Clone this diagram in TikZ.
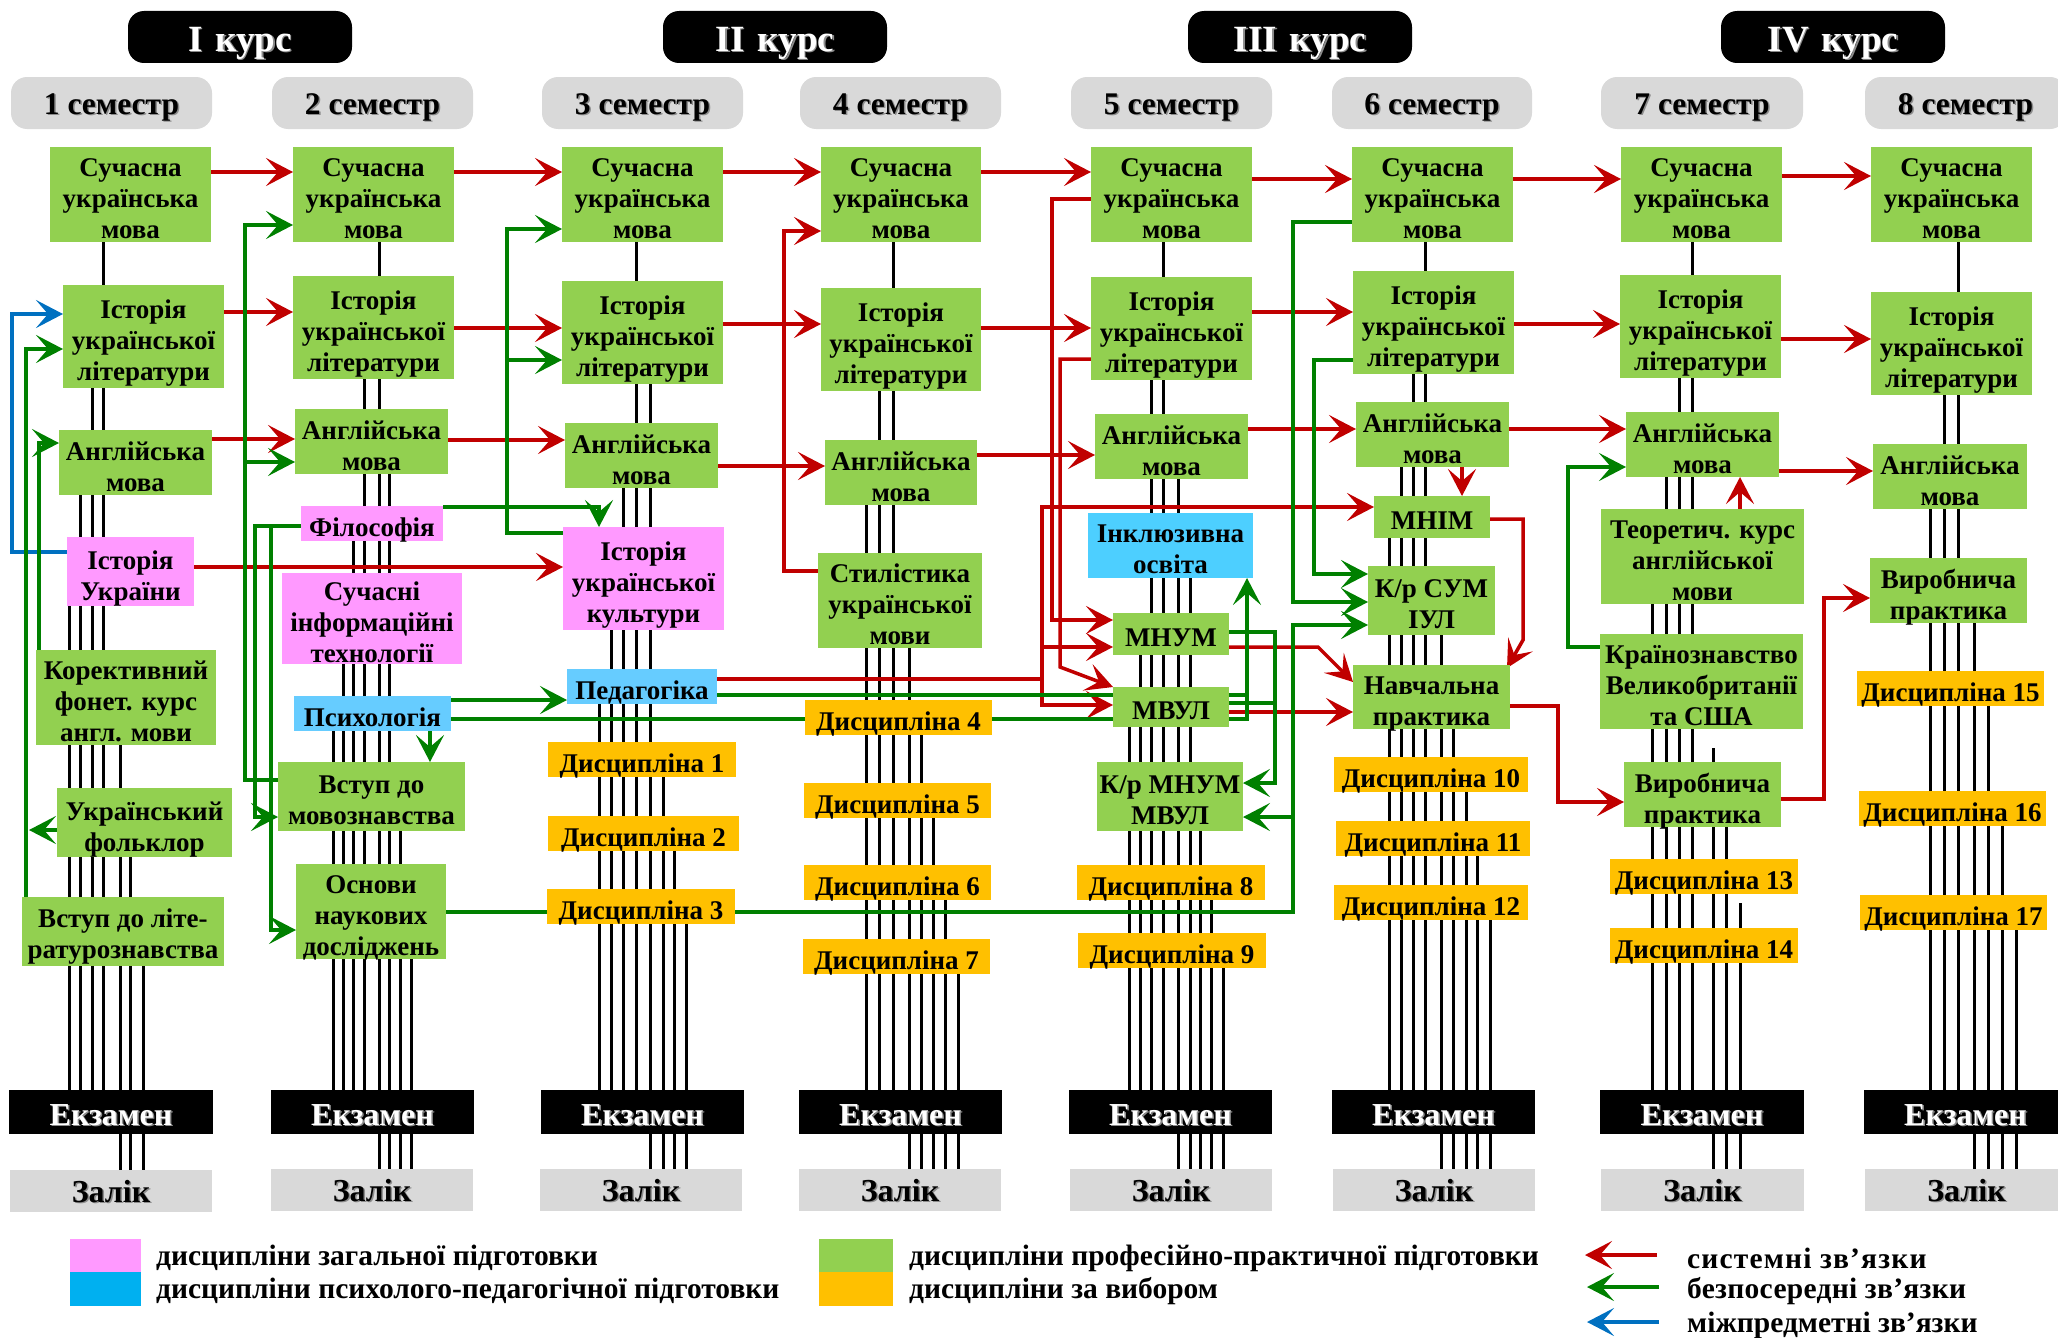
\documentclass[tikz,border=0pt]{standalone}
\usepackage{fontspec}
\setmainfont{Liberation Serif}
\usetikzlibrary{arrows.meta}
\definecolor{gbox}{HTML}{92D050}
\definecolor{obox}{HTML}{FFC000}
\definecolor{pbox}{HTML}{FF99FF}
\definecolor{bbox}{HTML}{66CCFF}
\definecolor{ibox}{HTML}{4DCFFF}
\definecolor{lblue}{HTML}{00B0F0}
\definecolor{gry}{HTML}{D9D9D9}
\definecolor{ared}{HTML}{C00000}
\definecolor{agrn}{HTML}{008000}
\definecolor{ablu}{HTML}{0070C0}
\pgfdeclarelayer{bg}\pgfdeclarelayer{mid}\pgfsetlayers{bg,mid,main}
\newcommand\shd[1]{\makebox[0pt][l]{\hspace{1.5pt}\raisebox{-1.5pt}{\color{black!45}#1}}#1}
\newcommand\bfs{\fontsize{27}{31}\selectfont\bfseries}
% \bx[text shift]{name}{style}{x1}{y1}{x2}{y2}{text}
\newcommand\bx[8][4]{%
  \node[#3,minimum width={(#6-#4)*1pt},minimum height={(#7-#5)*1pt}] (#2) at ({(#4+#6)/2},{(#5+#7)/2}) {};
  \node[#3,fill=none,minimum width=0pt,minimum height=0pt] (#2t) at ([yshift=-#1pt]#2.center) {#8};}
\tikzset{
  box/.style={inner sep=0pt, outer sep=0pt, align=center, font=\bfs, text depth=0pt},
  gb/.style={box, fill=gbox},
  ob/.style={box, fill=obox},
  pb/.style={box, fill=pbox},
  bb/.style={box, fill=bbox},
  ib/.style={box, fill=ibox},
  hdr/.style={box, fill=black, rounded corners=16pt, text=white, font=\fontsize{37}{39}\selectfont\bfseries},
  sem/.style={box, fill=gry, rounded corners=16pt, font=\fontsize{31.5}{33}\selectfont\bfseries},
  exm/.style={box, fill=black, text=white, font=\fontsize{32}{34}\selectfont\bfseries},
  zal/.style={box, fill=gry, font=\fontsize{32}{34}\selectfont\bfseries},
  lsq/.style={inner sep=0pt, outer sep=0pt},
  ltxt/.style={inner sep=0pt, anchor=west, font=\fontsize{29.5}{31}\selectfont\bfseries},
  bund/.style={line width=3pt, draw=black},
  ar/.style={line width=3.5pt, -{Stealth[length=27pt,width=28pt,inset=12pt]}},
  rar/.style={ar, draw=ared},
  gar/.style={ar, draw=agrn},
  bar/.style={ar, draw=ablu},
  rline/.style={line width=3.5pt, draw=ared},
  gline/.style={line width=3.5pt, draw=agrn},
}
\begin{document}
\begin{tikzpicture}[x=1pt,y=-1pt]
\useasboundingbox (0,0) rectangle (2058,1338);
% headers
\bx[2]{k1}{hdr}{128}{11}{352}{63}{\shd{I\hspace{0.35em}курс}}
\bx[2]{k2}{hdr}{663}{11}{887}{63}{\shd{II\hspace{0.35em}курс}}
\bx[2]{k3}{hdr}{1188}{11}{1412}{63}{\shd{III\hspace{0.35em}курс}}
\bx[2]{k4}{hdr}{1721}{11}{1945}{63}{\shd{IV\hspace{0.35em}курс}}
\bx[1]{m1}{sem}{11}{77}{212}{129}{\shd{1 семестр}}
\bx[1]{m2}{sem}{272}{77}{473}{129}{\shd{2 семестр}}
\bx[1]{m3}{sem}{542}{77}{743}{129}{\shd{3 семестр}}
\bx[1]{m4}{sem}{800}{77}{1001}{129}{\shd{4 семестр}}
\bx[1]{m5}{sem}{1071}{77}{1272}{129}{\shd{5 семестр}}
\bx[1]{m6}{sem}{1332}{77}{1532}{129}{\shd{6 семестр}}
\bx[1]{m7}{sem}{1601}{77}{1803}{129}{\shd{7 семестр}}
\bx[1]{m8}{sem}{1865}{77}{2066}{129}{\shd{8 семестр}}
% column 1
\bx{s1a}{gb}{50}{147}{211}{242}{Сучасна\\українська\\мова}
\bx{l1}{gb}{63}{285}{224}{388}{Історія\\української\\літератури}
\bx{e1}{gb}{59}{430}{212}{495}{Англійська\\мова}
\bx{iu}{pb}{67}{537}{194}{606}{Історія\\України}
\bx{kf}{gb}{36}{650}{216}{745}{Корективний\\фонет. курс\\англ. мови}
\bx{uf}{gb}{57}{788}{232}{857}{Український\\фольклор}
\bx[2]{vl}{gb}{22}{897}{224}{966}{Вступ до літе-\\ратурознавства}
\bx[3]{ex1}{exm}{9}{1090}{213}{1134}{\shd{Екзамен}}
\bx[0]{z1}{zal}{10}{1170}{212}{1212}{\shd{Залік}}
% column 2
\bx{s2}{gb}{293}{147}{454}{242}{Сучасна\\українська\\мова}
\bx{l2}{gb}{293}{276}{454}{379}{Історія\\української\\літератури}
\bx{e2}{gb}{295}{409}{448}{474}{Англійська\\мова}
\bx{fil}{pb}{301}{506}{443}{541}{Філософія}
\bx{sit}{pb}{282}{573}{462}{664}{Сучасні\\інформаційні\\технології}
\bx{psy}{bb}{294}{696}{451}{731}{Психологія}
\bx{vm}{gb}{278}{762}{465}{831}{Вступ до\\мовознавства}
\bx{ond}{gb}{296}{864}{446}{959}{Основи\\наукових\\досліджень}
\bx[3]{ex2}{exm}{271}{1090}{474}{1134}{\shd{Екзамен}}
\bx[0]{z2}{zal}{271}{1169}{473}{1211}{\shd{Залік}}
% column 3
\bx{s3}{gb}{562}{147}{723}{242}{Сучасна\\українська\\мова}
\bx{l3}{gb}{562}{281}{723}{384}{Історія\\української\\літератури}
\bx{e3}{gb}{565}{423}{718}{488}{Англійська\\мова}
\bx{iuk}{pb}{563}{527}{724}{630}{Історія\\української\\культури}
\bx{ped}{bb}{567}{669}{717}{704}{Педагогіка}
\bx{d1}{ob}{548}{742}{736}{777}{Дисципліна 1}
\bx{d2}{ob}{548}{816}{739}{851}{Дисципліна 2}
\bx{d3}{ob}{547}{889}{735}{924}{Дисципліна 3}
\bx[3]{ex3}{exm}{541}{1090}{744}{1134}{\shd{Екзамен}}
\bx[0]{z3}{zal}{540}{1169}{742}{1211}{\shd{Залік}}
% column 4
\bx{s4}{gb}{821}{147}{981}{242}{Сучасна\\українська\\мова}
\bx{l4}{gb}{821}{288}{981}{391}{Історія\\української\\літератури}
\bx{e4}{gb}{825}{440}{977}{505}{Англійська\\мова}
\bx{st}{gb}{818}{553}{982}{648}{Стилістика\\української\\мови}
\bx{d4}{ob}{805}{700}{992}{735}{Дисципліна 4}
\bx{d5}{ob}{804}{783}{991}{818}{Дисципліна 5}
\bx{d6}{ob}{804}{865}{991}{900}{Дисципліна 6}
\bx{d7}{ob}{803}{939}{990}{974}{Дисципліна 7}
\bx[3]{ex4}{exm}{799}{1090}{1002}{1134}{\shd{Екзамен}}
\bx[0]{z4}{zal}{799}{1169}{1001}{1211}{\shd{Залік}}
% column 5
\bx{s5}{gb}{1091}{147}{1252}{242}{Сучасна\\українська\\мова}
\bx{l5}{gb}{1091}{277}{1252}{380}{Історія\\української\\літератури}
\bx{e5}{gb}{1095}{414}{1248}{479}{Англійська\\мова}
\bx{inc}{ib}{1088}{513}{1253}{578}{Інклюзивна\\освіта}
\bx{mnum}{gb}{1113}{613}{1229}{655}{МНУМ}
\bx{mvul}{gb}{1113}{687}{1229}{727}{МВУЛ}
\bx{kr5}{gb}{1097}{762}{1243}{831}{К/р МНУМ\\МВУЛ}
\bx{d8}{ob}{1077}{865}{1265}{900}{Дисципліна 8}
\bx{d9}{ob}{1078}{933}{1266}{968}{Дисципліна 9}
\bx[3]{ex5}{exm}{1069}{1090}{1272}{1134}{\shd{Екзамен}}
\bx[0]{z5}{zal}{1070}{1169}{1272}{1211}{\shd{Залік}}
% column 6
\bx{s6}{gb}{1352}{147}{1513}{242}{Сучасна\\українська\\мова}
\bx{l6}{gb}{1353}{271}{1514}{374}{Історія\\української\\літератури}
\bx{e6}{gb}{1356}{402}{1509}{467}{Англійська\\мова}
\bx{mnim}{gb}{1374}{496}{1490}{538}{МНІМ}
\bx{kr6}{gb}{1368}{566}{1495}{635}{К/р СУМ\\ІУЛ}
\bx{np}{gb}{1353}{665}{1510}{729}{Навчальна\\практика}
\bx{d10}{ob}{1334}{757}{1528}{792}{Дисципліна 10}
\bx{d11}{ob}{1336}{821}{1530}{856}{Дисципліна 11}
\bx{d12}{ob}{1334}{885}{1528}{920}{Дисципліна 12}
\bx[3]{ex6}{exm}{1332}{1090}{1535}{1134}{\shd{Екзамен}}
\bx[0]{z6}{zal}{1333}{1169}{1535}{1211}{\shd{Залік}}
% column 7
\bx{s7}{gb}{1621}{147}{1782}{242}{Сучасна\\українська\\мова}
\bx{l7}{gb}{1620}{275}{1781}{378}{Історія\\української\\літератури}
\bx{e7}{gb}{1626}{412}{1779}{477}{Англійська\\мова}
\bx{tk}{gb}{1601}{509}{1804}{604}{Теоретич. курс\\англійської\\мови}
\bx{kz}{gb}{1600}{634}{1803}{729}{Країнознавство\\Великобританії\\та США}
\bx{vp7}{gb}{1624}{762}{1781}{827}{Виробнича\\практика}
\bx{d13}{ob}{1610}{859}{1798}{894}{Дисципліна 13}
\bx{d14}{ob}{1610}{928}{1798}{963}{Дисципліна 14}
\bx[3]{ex7}{exm}{1600}{1090}{1804}{1134}{\shd{Екзамен}}
\bx[0]{z7}{zal}{1601}{1169}{1804}{1211}{\shd{Залік}}
% column 8
\bx{s8}{gb}{1871}{147}{2032}{242}{Сучасна\\українська\\мова}
\bx{l8}{gb}{1871}{292}{2032}{395}{Історія\\української\\літератури}
\bx{e8}{gb}{1873}{444}{2027}{509}{Англійська\\мова}
\bx{vp8}{gb}{1870}{558}{2027}{623}{Виробнича\\практика}
\bx{d15}{ob}{1857}{671}{2044}{706}{Дисципліна 15}
\bx{d16}{ob}{1859}{791}{2046}{826}{Дисципліна 16}
\bx{d17}{ob}{1860}{895}{2047}{930}{Дисципліна 17}
\bx[3]{ex8}{exm}{1864}{1090}{2067}{1134}{\shd{Екзамен}}
\bx[0]{z8}{zal}{1865}{1169}{2068}{1211}{\shd{Залік}}
% legend
\node[lsq,fill=pbox,minimum width=71pt,minimum height=33pt] (lp) at (105.5,1255.5) {};
\node[lsq,fill=lblue,minimum width=71pt,minimum height=34pt] (lb) at (105.5,1289) {};
\node[lsq,fill=gbox,minimum width=74pt,minimum height=33pt] (lg) at (856,1255.5) {};
\node[lsq,fill=obox,minimum width=74pt,minimum height=34pt] (lo) at (856,1289) {};
\node[ltxt] (t1) at (156,1258) {дисципліни загальної підготовки};
\node[ltxt] (t2) at (156,1291) {дисципліни психолого-педагогічної підготовки};
\node[ltxt] (t3) at (909,1258) {дисципліни професійно-практичної підготовки};
\node[ltxt] (t4) at (909,1291) {дисципліни за вибором};
\node[ltxt] (t5) at (1687,1258) {\addfontfeature{LetterSpace=4}системні зв’язки};
\node[ltxt] (t6) at (1687,1291) {\addfontfeature{LetterSpace=1}безпосередні зв’язки};
\node[ltxt] (t7) at (1687,1325) {міжпредметні зв’язки};
\coordinate (ra1) at (1657,1255); \coordinate (ra2) at (1585,1255);
\coordinate (ga1) at (1659,1287); \coordinate (ga2) at (1587,1287);
\coordinate (ba1) at (1659,1322); \coordinate (ba2) at (1587,1322);
\draw[rar] (ra1) -- (ra2);
\draw[gar] (ga1) -- (ga2);
\draw[bar] (ba1) -- (ba2);
% bundles
\begin{pgfonlayer}{bg}
\foreach \x/\a/\b in {103/s1a/ex1,92/l1/ex1,80/e1/ex1,69/iu/ex1,120/kf/z1,130/uf/z1,143/vl/z1,
  379/s2/z2,364/l2/ex2,389/e2/z2,353/fil/ex2,343/sit/ex2,333/psy/ex2,400/vm/z2,411/ond/z2,
  636/s3/ex3,650/l3/z3,623/e3/ex3,611/iuk/ex3,599/ped/ex3,663/d1/z3,674/d2/z3,686/d3/z3,
  893/s4/ex4,879/l4/ex4,866/e4/ex4,909/st/z4,921/d4/z4,933/d5/z4,945/d6/z4,958/d7/z4,
  1163/s5/ex5,1151/l5/ex5,1178/e5/z5,1190/inc/z5,1140/mnum/ex5,1129/mvul/ex5,1200/kr5/z5,1211/d8/z5,1223/d9/z5,
  1425/s6/ex6,1413/l6/ex6,1401/e6/ex6,1389/mnim/ex6,1441/kr6/z6,1453/np/z6,1466/d10/z6,1477/d11/z6,1490/d12/z6,
  1692/s7/ex7,1679/l7/ex7,1666/e7/ex7,1652/tk/ex7,1726/vp7/z7,
  1958/s8/ex8,1944/l8/ex8,1930/e8/ex8,1974/vp8/z8,1988/d15/z8,2002/d16/z8,2016/d17/z8}
  {\draw[bund] (\a.south -| \x,0) -- (\b.north -| \x,0);}
\coordinate (b7a) at (1713,748);
\coordinate (b7b) at (1740,903);
\draw[bund] (b7a) -- (z7.north -| b7a);
\draw[bund] (b7b) -- (z7.north -| b7b);
\end{pgfonlayer}
% connectors
\begin{pgfonlayer}{mid}
\foreach \a/\b/\y in {s1a/s2/172,s2/s3/172,s3/s4/172,s4/s5/172,s5/s6/179,s6/s7/179,s7/s8/176,
  l1/l2/312,l2/l3/328,l3/l4/324,l4/l5/328,l5/l6/312,l6/l7/324,l7/l8/339,
  e1/e2/439,e2/e3/440,e3/e4/466,e4/e5/455,e5/e6/429,e6/e7/429,e7/e8/471,iu/iuk/567}
  {\draw[rar] (\a.east |- 0,\y) -- (\b.west |- 0,\y);}
\draw[rar] (st.west |- 0,571) -| (784,231) -- (s4.west |- 0,231);
\draw[rar] (s5.west |- 0,199) -| (1052,620) -- (mnum.west |- 0,620);
\draw[rar] (l5.west |- 0,359) -| (1060,667) -- (mvul.north west);
\draw[rar] (ped.east |- 0,679) -| (1042,507) -- (mnim.west |- 0,507);
\draw[rar] (1042,679) |- (mvul.west |- 0,705);
\draw[rar] (1042,647) -- (mnum.west |- 0,647);
\draw[rar] (mnum.east |- 0,647) -- (1318,647) -- (np.west |- 0,682);
\draw[rar] (mvul.east |- 0,712) -- (np.west |- 0,712);
\draw[rar] (e6.south -| 1462,0) -- (mnim.north -| 1462,0);
\draw[rar] (mnim.east |- 0,519) -| (1523,640) -- ([xshift=-3pt,yshift=-3pt]np.north east);
\draw[rar] (np.east |- 0,706) -- (1558,706) |- (vp7.west |- 0,802);
\draw[rar] (vp7.east |- 0,799) -- (1824,799) |- (vp8.west |- 0,598);
\draw[rar] (tk.north -| 1740,0) -- (e7.south -| 1740,0);
\draw[bar] (iu.west |- 0,552) -- (12,552) |- (l1.west |- 0,314);
\draw[gar] (vl.north -| 26,0) |- (l1.west |- 0,349);
\draw[gar] (kf.north -| 39,0) |- (e1.west |- 0,443);
\draw[gar] (uf.west |- 0,830) -- (29,830);
\draw[gar] (vm.west |- 0,780) -| (245,225) -- (s2.west |- 0,225);
\draw[gar] (245,462) -- (e2.west |- 0,462);
\draw[gar] (fil.west |- 0,526) -- (255,526) |- (vm.west |- 0,817);
\draw[gar] (271,526) |- (ond.west |- 0,930);
\draw[gar] (psy.south -| 430,0) -- (vm.north -| 430,0);
\draw[gar] (psy.east |- 0,700) -- (ped.west |- 0,700);
\draw[gar] (psy.east |- 0,719) -| (inc.south -| 1247,0);
\draw[gline] (ped.east |- 0,695) -- (1247,695);
\draw[gar] (mnum.east |- 0,632) -- (1275,632) |- (kr5.east |- 0,783);
\draw[gline] (mvul.east |- 0,703) -- (1275,703);
\draw[gar] (s6.west |- 0,222) -- (1293,222) |- (kr6.west |- 0,602);
\draw[gar] (l6.west |- 0,360) -- (1314,360) |- (kr6.west |- 0,574);
\draw[gar] (ond.east |- 0,912) -- (1293,912) |- (kr6.west |- 0,625);
\draw[gar] (1293,817) -- (kr5.east |- 0,817);
\draw[gar] (iuk.west |- 0,533) -- (507,533) |- (s3.west |- 0,229);
\draw[gar] (507,360) -- (l3.west |- 0,360);
\draw[gar] (fil.east |- 0,507) -- (599,507) -- (iuk.north -| 599,0);
\draw[gar] (kz.west |- 0,647) -- (1568,647) |- (e7.west |- 0,467);
\end{pgfonlayer}
\end{tikzpicture}
\end{document}
